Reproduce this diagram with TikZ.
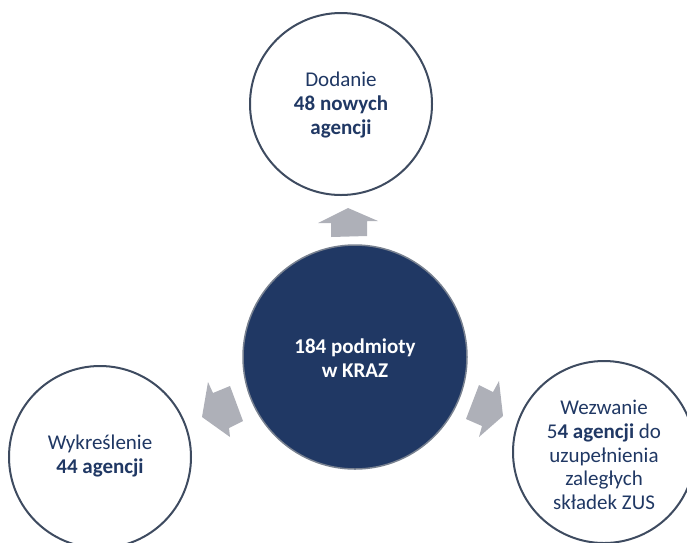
\documentclass[tikz,border=0pt]{standalone}
\usepackage{fontspec}
\setmainfont{Carlito}
\definecolor{navy}{HTML}{203864}
\definecolor{ring}{HTML}{3E4B60}
\definecolor{arrowgray}{HTML}{AEB0B8}
\begin{document}
\begin{tikzpicture}[x=1pt,y=-1pt,
  ringcircle/.style={circle,draw=ring,line width=2pt,fill=white,minimum size=182pt,inner sep=0pt},
  hubcircle/.style={circle,draw=ring!70!white,line width=1.5pt,fill=navy,minimum size=224pt,inner sep=0pt},
  lbl/.style={align=center,text=navy,font=\fontsize{21}{23.8}\selectfont},
  hublbl/.style={align=center,text=white,font=\fontsize{21}{23.8}\selectfont\bfseries},
  blockarrow/.style={fill=arrowgray,draw=none}]
\useasboundingbox (0,0) rectangle (687,542);
\clip (0,0) rectangle (687,542);
% circles
\node[ringcircle] (top) at (341,104) {};
\node[ringcircle] (left) at (100,457) {};
\node[ringcircle] (right) at (604,452) {};
\node[hubcircle] (hub) at (355,357) {};
% texts
\node[lbl] (toplbl) at (341,105) {Dodanie\\\textbf{48 nowych}\\\textbf{agencji}};
\node[lbl] (leftlbl) at (100,456) {Wykreślenie\\\textbf{44 agencji}};
\node[lbl] (rightlbl) at (604,455) {Wezwanie\\5\textbf{4 agencji} do\\uzupełnienia\\zaległych\\składek ZUS};
\node[hublbl] (hublabel) at (355,358) {184 podmioty\\w KRAZ};
% block arrows
\fill[blockarrow] (348,208) -- (378,221) -- (367,221) -- (367,236) -- (331,237) -- (331,223) -- (318,223) -- cycle;
\fill[blockarrow] (202,417) -- (208,382) -- (213,393) -- (230,386) -- (243,421) -- (229,428) -- (230,437) -- cycle;
\fill[blockarrow] (503,416) -- (479,437) -- (482,426) -- (466,419) -- (479,385) -- (493,392) -- (499,381) -- cycle;
\end{tikzpicture}
\end{document}
